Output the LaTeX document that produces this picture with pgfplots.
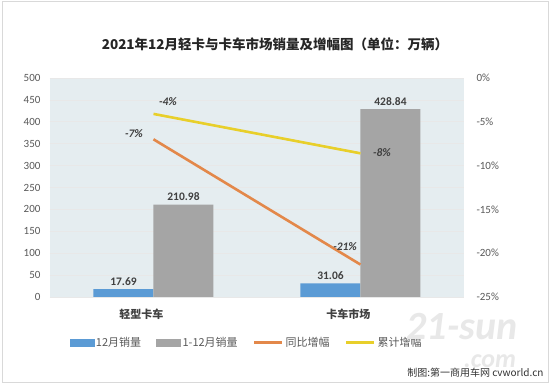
\documentclass[border=0pt]{standalone}
\usepackage{fontspec}
\setmainfont{Carlito}
\newfontfamily\cjk{Noto Sans CJK SC}
\usepackage{pgfplots}
\pgfplotsset{compat=1.18}
\definecolor{cblue}{HTML}{5B9BD5}
\definecolor{cgray}{HTML}{A5A5A5}
\definecolor{corange}{HTML}{E3884A}
\definecolor{cyellow}{HTML}{E8CF2A}
\definecolor{ctick}{HTML}{595959}
\definecolor{clab}{HTML}{404040}
\definecolor{cbg}{RGB}{229,237,240}
\begin{document}
\begin{tikzpicture}
\useasboundingbox (0pt,0pt) rectangle (550pt,385pt);
\fill[white] (0pt,0pt) rectangle (550pt,385pt);
\draw[gray!30, line width=1pt] (2pt,2pt) rectangle (548pt,383pt);
\node[font=\cjk\bfseries\fontsize{13.5}{15}\selectfont, text=black!85] at (275pt,341pt) {2021年12月轻卡与卡车市场销量及增幅图（单位：万辆）};
% primary axis: bars
\begin{axis}[
  at={(50pt,88pt)}, anchor=south west,
  scale only axis, width=414pt, height=219pt,
  xmin=-0.5, xmax=1.5, ymin=0, ymax=500,
  ytick={0,50,...,500},
  xtick={0,1}, xticklabels={轻型卡车,卡车市场},
  xticklabel style={font=\cjk\bfseries\fontsize{11}{13}\selectfont, text=clab, yshift=-8pt, xshift=-12pt},
  yticklabel style={font=\fontsize{11}{13}\selectfont, text=ctick, xshift=-6pt},
  /pgf/number format/assume math mode=true,
  axis line style={draw=none},
  major tick length=0pt,
  axis background/.style={fill=cbg},
  ymajorgrids, grid style={white!70!gray!60, line width=0.6pt},
  ybar=0pt, bar width=60pt,
  nodes near coords,
  nodes near coords style={font=\bfseries\fontsize{11.5}{13}\selectfont, text=clab, /pgf/number format/.cd, fixed, fixed zerofill, precision=2},
  clip=false,
]
\addplot[fill=cblue, draw=none] coordinates {(0,17.69) (1,31.06)};
\addplot[fill=cgray, draw=none] coordinates {(0,210.98) (1,428.84)};
\end{axis}
% secondary axis: lines
\begin{axis}[
  at={(50pt,88pt)}, anchor=south west,
  scale only axis, width=414pt, height=219pt,
  xmin=-0.5, xmax=1.5, ymin=-25, ymax=0,
  axis y line*=right, axis x line=none,
  axis line style={draw=none},
  major tick length=0pt,
  ytick={-25,-20,...,0},
  yticklabel={\pgfmathprintnumber{\tick}\%},
  yticklabel style={font=\fontsize{11}{13}\selectfont, text=ctick, xshift=9pt},
  /pgf/number format/assume math mode=true,
  clip=false,
  legend columns=4,
  legend style={at={(0.475,-0.21)}, anchor=center, draw=none, fill=none,
    font=\cjk\fontsize{11}{12}\selectfont, text=ctick,
    /tikz/every even column/.append style={column sep=13pt},
    /tikz/every odd column/.append style={column sep=0pt}},
  legend cell align=left,
]
\addlegendimage{legend image code/.code={\fill[cblue] (0pt,-3.5pt) rectangle (24pt,3.5pt);}}
\addlegendentry{12月销量}
\addlegendimage{legend image code/.code={\fill[cgray] (0pt,-3.5pt) rectangle (24pt,3.5pt);}}
\addlegendentry{1-12月销量}
\addlegendimage{legend image code/.code={\draw[corange, line width=3pt] (0pt,0pt) -- (28pt,0pt);}}
\addlegendentry{同比增幅}
\addlegendimage{legend image code/.code={\draw[cyellow, line width=3pt] (0pt,0pt) -- (28pt,0pt);}}
\addlegendentry{累计增幅}
\addplot[corange, line width=2.6pt, forget plot] coordinates {(0,-7.0) (1,-21.3)}
  node[pos=0, anchor=east, xshift=-6pt, yshift=6pt, font=\bfseries\itshape\fontsize{11.5}{13}\selectfont, text=clab] {-7\%}
  node[pos=1, anchor=south east, xshift=1pt, yshift=9pt, font=\bfseries\itshape\fontsize{11.5}{13}\selectfont, text=clab] {-21\%};
\addplot[cyellow, line width=2.6pt, forget plot] coordinates {(0,-4.1) (1,-8.6)}
  node[pos=0, anchor=south west, xshift=1pt, yshift=4pt, font=\bfseries\itshape\fontsize{11.5}{13}\selectfont, text=clab] {-4\%}
  node[pos=1, anchor=west, xshift=8pt, yshift=1pt, font=\bfseries\itshape\fontsize{11.5}{13}\selectfont, text=clab] {-8\%};
\end{axis}
% watermark and credit
\node[font=\bfseries\itshape\fontsize{40}{40}\selectfont, text=gray!18, anchor=center] at (462pt,58pt) {21-sun};
\node[font=\bfseries\itshape\fontsize{26}{26}\selectfont, text=gray!18, anchor=center] at (490pt,24pt) {.com};
\node[font=\cjk\fontsize{10}{12}\selectfont, text=black!80, anchor=east] at (547pt,12pt) {制图:第一商用车网 cvworld.cn};
\end{tikzpicture}
\end{document}
